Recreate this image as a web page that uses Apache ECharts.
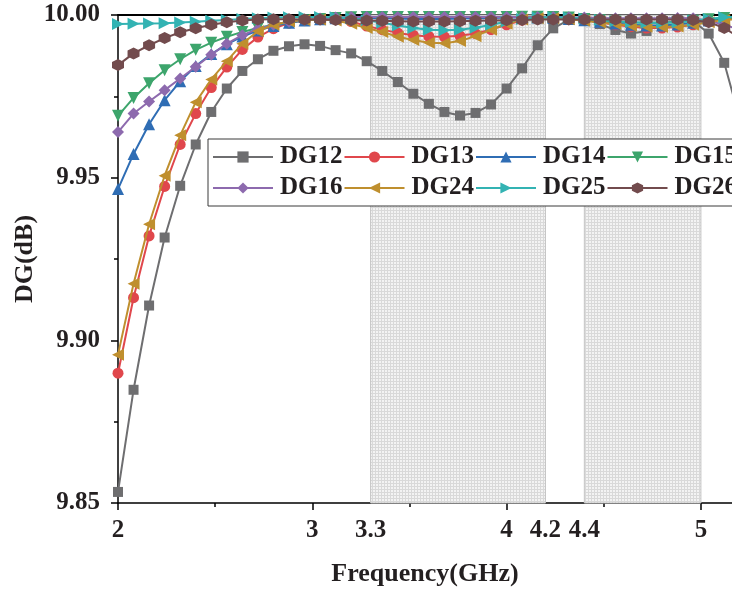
<!DOCTYPE html>
<html>
<head>
<meta charset="utf-8">
<script src="https://cdn.jsdelivr.net/npm/echarts@6/dist/echarts.min.js"></script>
<style>html,body{margin:0;padding:0;background:#fff}#c{width:732px;height:592px}</style>
</head>
<body>
<div id="c"></div>
<script>
const freqs = [2.00,2.08,2.16,2.24,2.32,2.40,2.48,2.56,2.64,2.72,2.80,2.88,2.96,3.04,3.12,3.20,3.28,3.36,3.44,3.52,3.60,3.68,3.76,3.84,3.92,4.00,4.08,4.16,4.24,4.32,4.40,4.48,4.56,4.64,4.72,4.80,4.88,4.96,5.04,5.12,5.20];
const seriesNames = ['DG12','DG13','DG14','DG15','DG16','DG24','DG25','DG26'];
const DG12 = [9.8534,9.8848,9.9107,9.9316,9.9475,9.9602,9.9702,9.9774,9.9828,9.9864,9.9890,9.9904,9.9910,9.9905,9.9892,9.9882,9.9858,9.9828,9.9794,9.9758,9.9727,9.9702,9.9691,9.9699,9.9725,9.9774,9.9836,9.9907,9.9959,9.9985,9.9990,9.9972,9.9954,9.9943,9.9951,9.9972,9.9985,9.9982,9.9943,9.9853,9.9680];
const DG13 = [9.8899,9.9131,9.9321,9.9473,9.9602,9.9697,9.9777,9.9840,9.9894,9.9932,9.9958,9.9975,9.9984,9.9988,9.9988,9.9980,9.9966,9.9955,9.9945,9.9938,9.9934,9.9933,9.9936,9.9943,9.9955,9.9970,9.9984,9.9990,9.9992,9.9990,9.9985,9.9978,9.9970,9.9964,9.9960,9.9960,9.9963,9.9970,9.9980,9.9988,9.9990];
const DG14 = [9.9465,9.9573,9.9664,9.9738,9.9796,9.9843,9.9880,9.9910,9.9934,9.9952,9.9966,9.9976,9.9983,9.9987,9.9990,9.9991,9.9991,9.9990,9.9989,9.9988,9.9988,9.9988,9.9989,9.9990,9.9991,9.9992,9.9992,9.9992,9.9991,9.9988,9.9984,9.9979,9.9974,9.9970,9.9968,9.9968,9.9971,9.9976,9.9983,9.9989,9.9991];
const DG15 = [9.9690,9.9745,9.9790,9.9830,9.9864,9.9893,9.9915,9.9933,9.9948,9.9960,9.9970,9.9978,9.9984,9.9988,9.9991,9.9993,9.9994,9.9994,9.9994,9.9994,9.9994,9.9994,9.9994,9.9994,9.9994,9.9994,9.9995,9.9995,9.9994,9.9992,9.9988,9.9984,9.9980,9.9977,9.9976,9.9976,9.9978,9.9982,9.9987,9.9991,9.9993];
const DG16 = [9.9640,9.9697,9.9734,9.9769,9.9805,9.9841,9.9878,9.9912,9.9938,9.9957,9.9970,9.9979,9.9985,9.9989,9.9992,9.9994,9.9994,9.9994,9.9994,9.9994,9.9994,9.9994,9.9994,9.9994,9.9994,9.9994,9.9994,9.9994,9.9994,9.9993,9.9992,9.9991,9.9990,9.9990,9.9990,9.9990,9.9991,9.9990,9.9982,9.9970,9.9955];
const DG24 = [9.8956,9.9174,9.9357,9.9506,9.9630,9.9732,9.9802,9.9858,9.9912,9.9950,9.9970,9.9980,9.9985,9.9986,9.9983,9.9973,9.9960,9.9948,9.9933,9.9923,9.9915,9.9913,9.9920,9.9935,9.9955,9.9973,9.9986,9.9990,9.9990,9.9987,9.9982,9.9977,9.9972,9.9967,9.9964,9.9963,9.9965,9.9970,9.9978,9.9985,9.9988];
const DG25 = [9.9972,9.9973,9.9974,9.9975,9.9977,9.9979,9.9982,9.9985,9.9988,9.9990,9.9992,9.9993,9.9994,9.9994,9.9993,9.9990,9.9984,9.9976,9.9968,9.9960,9.9955,9.9953,9.9955,9.9961,9.9970,9.9980,9.9988,9.9992,9.9993,9.9992,9.9989,9.9985,9.9981,9.9978,9.9976,9.9976,9.9978,9.9982,9.9988,9.9993,9.9995];
const DG26 = [9.9846,9.9882,9.9907,9.9929,9.9947,9.9959,9.9970,9.9978,9.9983,9.9986,9.9987,9.9987,9.9986,9.9986,9.9985,9.9984,9.9983,9.9982,9.9981,9.9980,9.9980,9.9980,9.9981,9.9982,9.9983,9.9984,9.9985,9.9986,9.9986,9.9986,9.9986,9.9986,9.9986,9.9986,9.9986,9.9986,9.9986,9.9985,9.9978,9.9960,9.9930];
const xLabelValues = [2, 3, 3.3, 4, 4.2, 4.4, 5];
const xTickValues = [2, 3, 4, 5];
const bandStarts = [3.3, 4.4];
const bandEnds = [4.2, 5.0];

const allValues = [DG12, DG13, DG14, DG15, DG16, DG24, DG25, DG26];
const colors = ['#6e6e70','#e0474c','#2f6db4','#3da56c','#8d6aae','#bf8f2e','#33b3b3','#724b4d'];
const hexPath = 'path://M0,-1L0.866,-0.5L0.866,0.5L0,1L-0.866,0.5L-0.866,-0.5Z';
const symbols = ['rect','circle','triangle','triangle','diamond','triangle','triangle',hexPath];
const rotates = [0,0,0,180,0,90,-90,0];
const sizes = [10,11,12,12,12,12,12,12];

function makePattern(){
  const c = document.createElement('canvas'); c.width = 3; c.height = 3;
  const g = c.getContext('2d');
  g.fillStyle = '#f3f3f3'; g.fillRect(0,0,3,3);
  g.fillStyle = '#d9d9d9'; g.fillRect(0,0,3,1); g.fillRect(0,0,1,3);
  return c;
}
const pattern = makePattern();
const FONT = 'Liberation Serif';
const TXT = '#231f20';

const series = seriesNames.map((n, i) => {
  const s = {
    name: n, type: 'line',
    data: freqs.map((f, j) => [f, allValues[i][j]]),
    symbol: symbols[i], symbolSize: sizes[i], symbolRotate: rotates[i],
    showAllSymbol: true,
    lineStyle: { color: colors[i], width: 2 },
    itemStyle: { color: colors[i] },
    clip: true, z: 3 + i
  };
  if (i === 0) {
    s.markArea = {
      silent: true,
      itemStyle: { color: { image: pattern, repeat: 'repeat' }, borderColor: '#c4c4c4', borderWidth: 1 },
      data: bandStarts.map((b, k) => [{ xAxis: b }, { xAxis: bandEnds[k] }])
    };
  }
  return s;
});

const chart = echarts.init(document.getElementById('c'), null, { renderer: 'canvas' });
chart.setOption({
  animation: false,
  backgroundColor: '#fff',
  grid: { left: 118, right: 0, top: 15, bottom: 89, containLabel: false },
  legend: {
    data: seriesNames,
    left: 208, top: 139, width: 540,
    orient: 'horizontal',
    padding: [3, 4, 3, 4],
    itemGap: 1, itemWidth: 60, itemHeight: 14,
    backgroundColor: '#fff', borderColor: '#3a3a3a', borderWidth: 1,
    textStyle: { fontFamily: FONT, fontWeight: 'bold', fontSize: 25, color: TXT, lineHeight: 30, padding: [0, 0, 0, 2] }
  },
  xAxis: [{
    type: 'value', min: 2, max: 5.16, interval: 1,
    name: 'Frequency(GHz)', nameLocation: 'middle', nameGap: 58,
    nameTextStyle: { fontFamily: FONT, fontWeight: 'bold', fontSize: 26, color: TXT },
    axisLine: { show: true, onZero: false, lineStyle: { color: '#000', width: 1.5 } },
    axisTick: { show: true, inside: false, length: 7, customValues: xTickValues, lineStyle: { color: '#000', width: 1.5 } },
    minorTick: { show: true, splitNumber: 2, length: 4, lineStyle: { color: '#000', width: 1.5 } },
    axisLabel: { customValues: xLabelValues, margin: 15, fontFamily: FONT, fontWeight: 'bold', fontSize: 25, color: TXT,
      formatter: v => String(v) },
    splitLine: { show: false }
  }, {
    type: 'value', min: 2, max: 5.16, position: 'top',
    axisLine: { show: true, onZero: false, lineStyle: { color: '#000', width: 2 } },
    axisTick: { show: false }, axisLabel: { show: false }, splitLine: { show: false }
  }],
  yAxis: {
    type: 'value', min: 9.85, max: 10.0, interval: 0.05,
    name: 'DG(dB)', nameLocation: 'middle', nameGap: 80, nameMoveOverlap: false,
    nameTextStyle: { fontFamily: FONT, fontWeight: 'bold', fontSize: 26, color: TXT },
    axisLine: { show: true, onZero: false, lineStyle: { color: '#000', width: 1.5 } },
    axisTick: { show: true, inside: false, length: 7, lineStyle: { color: '#000', width: 1.5 } },
    minorTick: { show: true, splitNumber: 2, length: 4, lineStyle: { color: '#000', width: 1.5 } },
    axisLabel: { margin: 18, fontFamily: FONT, fontWeight: 'bold', fontSize: 25, color: TXT,
      formatter: v => v.toFixed(2) },
    splitLine: { show: false }
  },
  series: series
});
</script>
</body>
</html>
